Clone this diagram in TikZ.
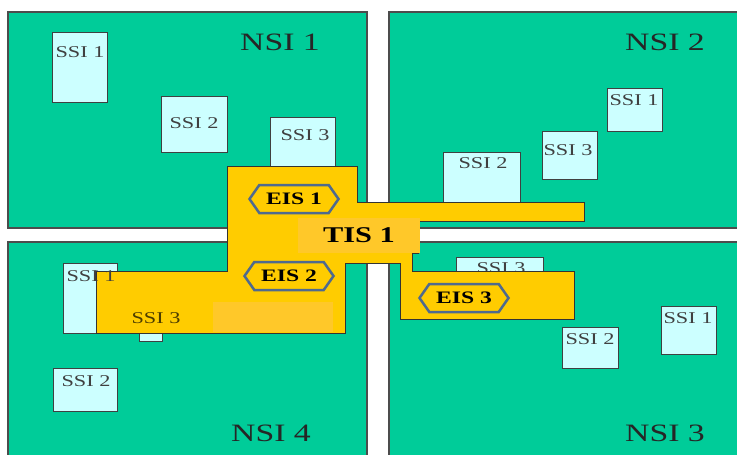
\documentclass[tikz,border=0pt]{standalone}
\usepackage{fontspec}
\setmainfont[FakeStretch=1.35]{Liberation Serif}
\usetikzlibrary{shapes.symbols}
\definecolor{nsigreen}{HTML}{00CC99}
\definecolor{ssicyan}{HTML}{CCFFFF}
\definecolor{tisyellow}{HTML}{FFCC00}
\definecolor{tislight}{HTML}{FFC829}
\definecolor{eisblue}{HTML}{4F6A8E}

\begin{document}
\begin{tikzpicture}[x=1pt,y=-1pt,
                    nsi/.style={draw=black!70,line width=1.2pt,fill=nsigreen},
                    nsitxt/.style={font=\fontsize{25}{28}\selectfont,text=black!85,inner sep=0pt},
                    ssi/.style={draw=black!75,line width=1pt,fill=ssicyan,inner sep=0pt},
                    ssitxt/.style={font=\fontsize{16.5}{18}\selectfont,text=black!75,inner sep=0pt},
                    tis/.style={draw=black!80,line width=0.8pt,fill=tisyellow},
                    tistxt/.style={font=\bfseries\fontsize{22.5}{25}\selectfont,inner sep=0pt},
                    eis/.style={signal,signal to=east and west,signal pointer angle=110,
                                draw=eisblue,line width=2.5pt,fill=tisyellow,inner sep=0pt,
                                minimum width=89pt,minimum height=28pt,
                                font=\bfseries\fontsize{17.5}{20}\selectfont}
]
\useasboundingbox (0,0) rectangle (737,455);
%
\draw[nsi] (8,12) rectangle (367,228);
\draw[nsi] (389,12) rectangle (740,228);
\draw[nsi] (8,242) rectangle (367,460);
\draw[nsi] (389,242) rectangle (740,460);
\node[nsitxt] (nsi1) at (280,42) {NSI 1};
\node[nsitxt] (nsi2) at (665,42) {NSI 2};
\node[nsitxt] (nsi3) at (665,433) {NSI 3};
\node[nsitxt] (nsi4) at (271,433) {NSI 4};
%
% NSI 1
\node[ssi,minimum width=55pt,minimum height=70pt] (a1) at (79.5,67) {};
\node[ssitxt] at (80,52) {SSI 1};
\node[ssi,minimum width=66pt,minimum height=56pt] (a2) at (194,124) {};
\node[ssitxt] at (194,123) {SSI 2};
\node[ssi,minimum width=65pt,minimum height=63pt] (a3) at (302.5,148.5) {};
\node[ssitxt] at (305,135) {SSI 3};
% NSI 2
\node[ssi,minimum width=55pt,minimum height=43pt] (b1) at (634.5,109.5) {};
\node[ssitxt] at (634,100) {SSI 1};
\node[ssi,minimum width=77pt,minimum height=53pt] (b2) at (481.5,178.5) {};
\node[ssitxt] at (483,163) {SSI 2};
\node[ssi,minimum width=55pt,minimum height=48pt] (b3) at (569.5,155) {};
\node[ssitxt] at (568,150) {SSI 3};
% NSI 3
\node[ssi,minimum width=55pt,minimum height=48pt] (c1) at (688.5,330) {};
\node[ssitxt] at (688,318) {SSI 1};
\node[ssi,minimum width=56pt,minimum height=41pt] (c2) at (590,347.5) {};
\node[ssitxt] at (590,339) {SSI 2};
\node[ssi,minimum width=87pt,minimum height=23pt] (c3) at (499.5,268.5) {};
\node[ssitxt] at (501,268) {SSI 3};
% NSI 4
\node[ssi,minimum width=54pt,minimum height=70pt] (d1) at (90,298) {};
\node[ssi,minimum width=64pt,minimum height=43pt] (d2) at (85,389.5) {};
\node[ssitxt] at (86,381) {SSI 2};
\node[ssi,minimum width=23pt,minimum height=41pt] (d3) at (150.5,320.5) {};
%
% TIS 1
\draw[tis] (227,166) -- (357,166) -- (357,202) -- (584,202) -- (584,221) -- (418,221)
  -- (418,253) -- (412,253) -- (412,271) -- (574,271) -- (574,319) -- (400,319)
  -- (400,263) -- (345,263) -- (345,333) -- (96,333) -- (96,271) -- (227,271) -- cycle;
\fill[tislight] (298,218) rectangle (419.5,253);
\fill[tislight] (213,302) rectangle (333,332);
\node[tistxt] (tis1) at (359,235) {TIS 1};
%
\node[eis] (eis1) at (294,199) {EIS 1};
\node[eis] (eis2) at (289,276) {EIS 2};
\node[eis] (eis3) at (464,298) {EIS 3};
%
\node[ssitxt] at (91,276) {SSI 1};
\node[ssitxt,text=black!70!tisyellow] at (156,318) {SSI 3};
\end{tikzpicture}
\end{document}
